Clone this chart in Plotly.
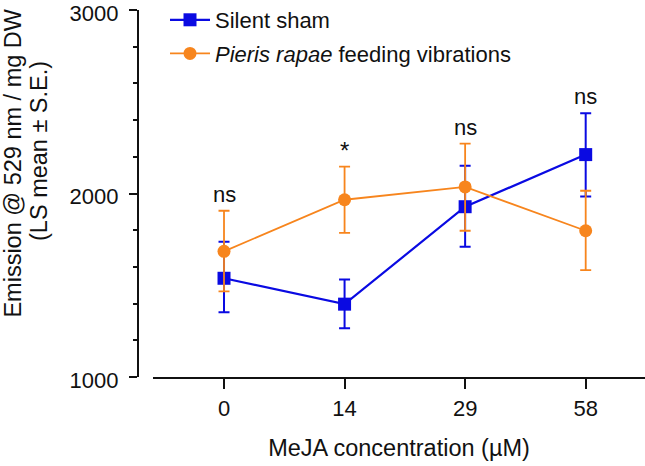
import plotly.graph_objects as go

categories = ["0", "14", "29", "58"]
sham_mean = [1538, 1397, 1928, 2212]
sham_upper = [1737, 1531, 2151, 2437]
sham_lower = [1353, 1265, 1710, 1984]
pieris_mean = [1685, 1966, 2036, 1797]
pieris_upper = [1906, 2147, 2272, 2015]
pieris_lower = [1467, 1785, 1797, 1582]
sig_labels = ["ns", "*", "ns", "ns"]
y_ticks = [1000, 2000, 3000]
y_title_lines = ["Emission @ 529 nm / mg DW", "(LS mean ± S.E.)"]

BLUE = "#0a0ae2"
ORANGE = "#f7851d"
FONT = "Liberation Sans, Arial, sans-serif"
W, H = 645, 466

xs = list(range(len(categories)))

fig = go.Figure()
fig.add_trace(go.Scatter(
    x=xs, y=sham_mean, mode="lines+markers", name="Silent sham",
    legendgroup="a",
    line=dict(color=BLUE, width=2.2),
    marker=dict(symbol="square", size=13, color=BLUE),
    error_y=dict(type="data", symmetric=False,
                 array=[u - m for u, m in zip(sham_upper, sham_mean)],
                 arrayminus=[m - l for l, m in zip(sham_lower, sham_mean)],
                 color=BLUE, thickness=2, width=5.5),
))
fig.add_trace(go.Scatter(
    x=xs, y=pieris_mean, mode="lines+markers",
    name="<i>Pieris rapae</i> feeding vibrations",
    legendgroup="b",
    line=dict(color=ORANGE, width=1.8),
    marker=dict(symbol="circle", size=13, color=ORANGE),
    error_y=dict(type="data", symmetric=False,
                 array=[u - m for u, m in zip(pieris_upper, pieris_mean)],
                 arrayminus=[m - l for l, m in zip(pieris_lower, pieris_mean)],
                 color=ORANGE, thickness=1.8, width=5.5),
))

for i, lab in enumerate(sig_labels):
    top = max(sham_upper[i], pieris_upper[i])
    fig.add_annotation(x=i, y=top, text=lab, showarrow=False,
                       yanchor="bottom", yshift=1 if lab == "*" else 2,
                       font=dict(family=FONT, size=24 if lab == "*" else 22,
                                 color="#111"))

# two-line rotated y-axis title
for txt, px, py in zip(y_title_lines, [13, 39], [195, 179]):
    fig.add_annotation(xref="paper", yref="paper", x=px / W, y=1 - py / H,
                       yanchor="middle", xanchor="center",
                       text=txt, textangle=-90, showarrow=False,
                       font=dict(family=FONT, size=23.5, color="#111"))

fig.update_layout(
    width=W, height=H,
    margin=dict(l=0, r=0, t=10, b=89, autoexpand=False),
    paper_bgcolor="white", plot_bgcolor="white",
    font=dict(family=FONT, size=22, color="#111"),
    showlegend=True,
    legend=dict(x=165 / W, y=1.03, xanchor="left", yanchor="top",
                bgcolor="rgba(0,0,0,0)",
                tracegroupgap=2, itemwidth=40,
                font=dict(family=FONT, size=22, color="#111")),
    xaxis=dict(
        domain=[153 / W, 1], range=[-0.589, 3.492],
        tickvals=xs, ticktext=categories,
        showline=True, linecolor="#111", linewidth=2.2,
        ticks="outside", ticklen=10, tickwidth=2.2, tickcolor="#111",
        showgrid=False, zeroline=False,
        title=dict(text="MeJA concentration (µM)", standoff=20,
                   font=dict(family=FONT, size=23.5)),
        tickfont=dict(family=FONT, size=22),
        automargin=False,
    ),
    yaxis=dict(
        anchor="free", position=138 / W, range=[1000, 3000],
        tickvals=y_ticks,
        showline=True, linecolor="#111", linewidth=2.2,
        ticks="outside", ticklen=8, tickwidth=2.2, tickcolor="#111",
        minor=dict(dtick=200, ticks="outside", ticklen=4, tickwidth=2.2,
                   tickcolor="#111", showgrid=False),
        showgrid=False, zeroline=False,
        tickfont=dict(family=FONT, size=22),
        ticklabelstandoff=6,
        ticklabelshift=3,
        ticklabeloverflow="allow",
        automargin=False,
    ),
)

fig.write_html("out.html", config={"displayModeBar": False},
               post_script="document.body.style.margin='0';")
